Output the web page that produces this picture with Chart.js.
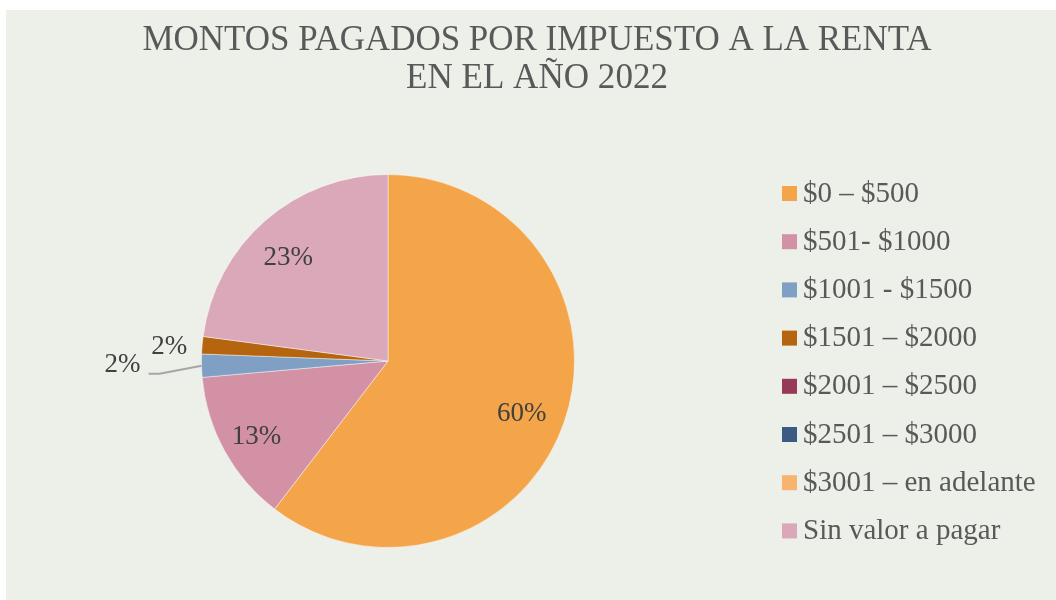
<!DOCTYPE html>
<html>
<head>
<meta charset="utf-8">
<script src="https://cdn.jsdelivr.net/npm/chart.js@4.4.1/dist/chart.umd.min.js"></script>
<style>
  html, body { margin: 0; padding: 0; background: #ffffff; }
  #wrap { position: relative; width: 1056px; height: 600px; }
  canvas { display: block; }
</style>
</head>
<body>
<div id="wrap"><canvas id="c" width="1056" height="600"></canvas></div>
<script>
const titleLines = ['MONTOS PAGADOS POR IMPUESTO A LA RENTA', 'EN EL AÑO 2022'];
const categories = ['$0 – $500', '$501- $1000', '$1001 - $1500', '$1501 – $2000', '$2001 – $2500', '$2501 – $3000', '$3001 – en adelante', 'Sin valor a pagar'];
const shares = [60.4, 13.2, 2.0, 1.5, 0, 0, 0, 22.9];
const sliceColors = ['#F4A54A', '#D391A6', '#7F9FC5', '#B5650F', '#963A57', '#3C5B84', '#F6B46E', '#DAA8B8'];

const FONT = "'Liberation Serif', 'Times New Roman', serif";
const BG = '#EDEFE9';

const bgPlugin = {
  id: 'bg',
  beforeDraw(chart) {
    const ctx = chart.ctx;
    ctx.save();
    ctx.fillStyle = '#ffffff';
    ctx.fillRect(0, 0, chart.width, chart.height);
    ctx.fillStyle = BG;
    ctx.fillRect(6, 10, chart.width - 6, chart.height - 10);
    ctx.restore();
  }
};

const titlePlugin = {
  id: 'titleDraw',
  afterDraw(chart) {
    const ctx = chart.ctx;
    ctx.save();
    ctx.fillStyle = '#595959';
    ctx.textAlign = 'center';
    ctx.textBaseline = 'alphabetic';
    ctx.font = '36px ' + FONT;
    const targets = [789, 262];
    const baselines = [50, 88];
    titleLines.forEach((t, i) => {
      const w = ctx.measureText(t).width;
      const sx = targets[i] / w;
      ctx.save();
      ctx.translate(537, baselines[i]);
      ctx.scale(sx, 1);
      ctx.fillText(t, 0, 0);
      ctx.restore();
    });
    ctx.restore();
  }
};

const legendPlugin = {
  id: 'legendDraw',
  afterDraw(chart) {
    const ctx = chart.ctx;
    const ds = chart.data.datasets[0];
    ctx.save();
    ctx.font = '29px ' + FONT;
    ctx.textBaseline = 'middle';
    ctx.textAlign = 'left';
    chart.data.labels.forEach((lab, i) => {
      const cy = 193 + i * 48.2;
      ctx.fillStyle = ds.backgroundColor[i];
      ctx.fillRect(782, cy - 7, 15, 15);
      ctx.fillStyle = '#595959';
      ctx.fillText(lab, 803, cy + 1);
    });
    ctx.restore();
  }
};

const labelPlugin = {
  id: 'sliceLabels',
  afterDatasetsDraw(chart) {
    const ctx = chart.ctx;
    const meta = chart.getDatasetMeta(0);
    const data = chart.data.datasets[0].data;
    const total = data.reduce((a, b) => a + b, 0);
    ctx.save();
    ctx.font = '27px ' + FONT;
    ctx.fillStyle = '#404040';
    ctx.textAlign = 'center';
    ctx.textBaseline = 'middle';
    meta.data.forEach((arc, i) => {
      const v = data[i];
      if (!v) return;
      const p = arc.getProps(['x', 'y', 'startAngle', 'endAngle', 'outerRadius'], true);
      const mid = (p.startAngle + p.endAngle) / 2;
      const pct = Math.round(v / total * 100) + '%';
      const frac = v / total;
      if (frac > 0.05) {
        const r = p.outerRadius * 0.78;
        ctx.fillText(pct, p.x + Math.cos(mid) * r - 4, p.y + Math.sin(mid) * r + 6);
      } else if (i === 3) {
        const r = p.outerRadius + 33;
        ctx.fillText(pct, p.x + Math.cos(mid) * r, p.y + Math.sin(mid) * r + 5);
      } else {
        const r = p.outerRadius + 79;
        const lx = p.x + Math.cos(mid) * r;
        const ly = p.y + Math.sin(mid) * r;
        ctx.fillText(pct, lx, ly - 3);
        // leader line
        const ex = p.x + Math.cos(mid) * p.outerRadius;
        const ey = p.y + Math.sin(mid) * p.outerRadius;
        ctx.strokeStyle = '#A6A6A6';
        ctx.lineWidth = 2;
        ctx.beginPath();
        ctx.moveTo(ex, ey);
        ctx.lineTo(lx + 37, ly + 6);
        ctx.lineTo(lx + 26, ly + 6);
        ctx.stroke();
      }
    });
    ctx.restore();
  }
};

new Chart(document.getElementById('c'), {
  type: 'pie',
  data: {
    labels: categories,
    datasets: [{
      data: shares,
      backgroundColor: sliceColors,
      borderColor: 'rgba(255,255,255,0.45)',
      borderWidth: 1
    }]
  },
  options: {
    responsive: false,
    animation: false,
    layout: { padding: { left: 201, right: 481, top: 174, bottom: 52 } },
    plugins: {
      legend: { display: false },
      title: { display: false },
      tooltip: { enabled: false }
    }
  },
  plugins: [bgPlugin, labelPlugin, titlePlugin, legendPlugin]
});
</script>
</body>
</html>
